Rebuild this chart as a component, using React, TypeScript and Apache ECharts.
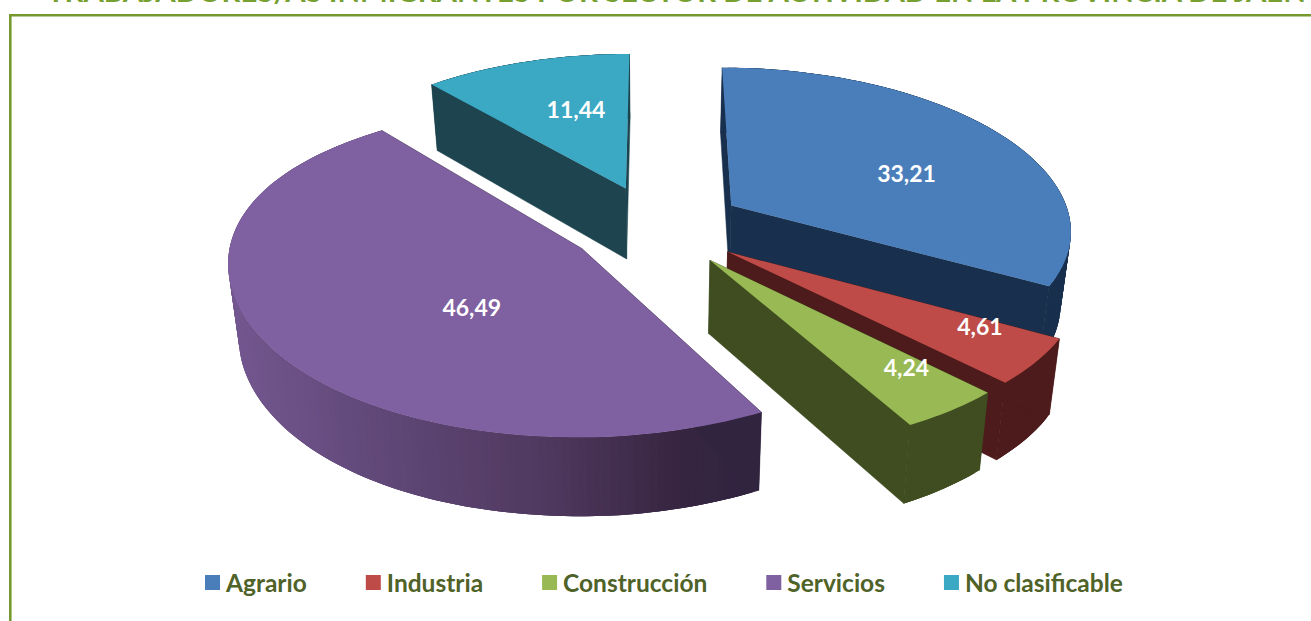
import React, { useEffect, useRef } from "react";
import * as echarts from "echarts";

const titleText = "TRABAJADORES/AS INMIGRANTES POR SECTOR DE ACTIVIDAD EN LA PROVINCIA DE JAÉN";
const categories = ["Agrario", "Industria", "Construcción", "Servicios", "No clasificable"];
const values = [33.21, 4.61, 4.24, 46.49, 11.44];
const valueLabels = ["33,21", "4,61", "4,24", "46,49", "11,44"];
const topColors = ["#4a7ebb", "#be4b48", "#98b954", "#7f60a0", "#3ba8c4"];
const wallColors = ["#18304d", "#4d1b1b", "#3f4d20", "#30243f", "#1d444f"];
// outer wall of Servicios shades from left to right
const shadeStops: [number, number[]][] = [
  [0, [0x73, 0x57, 0x8f]],
  [0.3, [0x5f, 0x47, 0x77]],
  [0.6, [0x50, 0x39, 0x5f]],
  [0.85, [0x37, 0x25, 0x41]],
  [1, [0x30, 0x24, 0x3f]],
];
// label placement inside each slice: radius fraction, fraction of the slice's sweep
const labelRadius = [0.595, 0.785, 0.765, 0.45, 0.6];
const labelSweep = [0.56, 0.12, 0.2, 0.41, 0.6];
// painter's order, back to front
const drawOrder = [4, 0, 1, 2, 3];

const CX = 656, CY = 226, AX = 341, BY = 159, KX = 0.14, KY = 0.12, EXPLODE = 0.26;
const total = values.reduce((a, b) => a + b, 0);
const starts: number[] = [];
values.reduce((acc, v, i) => { starts[i] = acc; return acc + v; }, 0);

function project(u: number, v: number, low: boolean): number[] {
  const wx = 1 / (1 - KX * v);
  const wy = 1 / (1 - KY * v);
  const lift = 14 * Math.max(-u - 0.1, 0) * Math.max(1 - ((v - 0.2) / 1.2) ** 2, 0);
  const x = CX + AX * u * wx * (low ? 0.975 : 1);
  const y = CY + BY * v * wy - lift + (low ? 72 + 6 * v : 0);
  return [x, y];
}

function shade(t: number): string {
  for (let i = 1; i < shadeStops.length; i++) {
    const [o1, c1] = shadeStops[i];
    const [o0, c0] = shadeStops[i - 1];
    if (t <= o1) {
      const f = Math.max(0, (t - o0) / (o1 - o0));
      const c = c0.map((a, k) => Math.round(a + (c1[k] - a) * f));
      return `rgb(${c[0]},${c[1]},${c[2]})`;
    }
  }
  return "#30243f";
}

function sliceGeometry(i: number) {
  const a0 = (starts[i] / total) * Math.PI * 2;
  const a1 = ((starts[i] + values[i]) / total) * Math.PI * 2;
  const mid = (a0 + a1) / 2;
  const ou = Math.sin(mid) * EXPLODE;
  const ov = -Math.cos(mid) * EXPLODE;
  const at = (r: number, a: number): number[] => [ou + r * Math.sin(a), ov - r * Math.cos(a)];
  const steps = Math.max(6, Math.ceil((a1 - a0) / 0.02));
  const rim: number[][] = [];
  for (let s = 0; s <= steps; s++) rim.push(at(1, a0 + ((a1 - a0) * s) / steps));
  return { a0, a1, ou, ov, at, rim };
}

function renderSlice(idx: number) {
  return () => {
    const g = sliceGeometry(idx);
    const apex = [g.ou, g.ov];
    const top = (p: number[]) => project(p[0], p[1], false);
    const low = (p: number[]) => project(p[0], p[1], true);
    const topRim = g.rim.map(top);
    const lowRim = g.rim.map(low);
    const xs = topRim.map((p) => p[0]);
    const minX = Math.min(...xs);
    const maxX = Math.max(...xs);
    const first = g.rim[0];
    const last = g.rim[g.rim.length - 1];
    const children: any[] = [];
    const n = g.rim.length - 1;
    for (let s = 0; s < n; s++) {
      const e = Math.min(s + 3, n);
      const c = idx === 3 ? shade((topRim[s][0] - minX) / (maxX - minX)) : wallColors[idx];
      children.push({
        type: "polygon",
        shape: { points: [topRim[s], topRim[s + 1], topRim[e], lowRim[e], lowRim[s + 1], lowRim[s]] },
        style: { fill: c, stroke: null },
      });
    }
    const wc = wallColors[idx];
    children.push(
      { type: "polygon", shape: { points: [top(apex), top(first), low(first), low(apex)] }, style: { fill: wc, stroke: wc, lineWidth: 0.5 } },
      { type: "polygon", shape: { points: [top(apex), top(last), low(last), low(apex)] }, style: { fill: wc, stroke: wc, lineWidth: 0.5 } },
      { type: "polygon", shape: { points: [top(apex), ...topRim] }, style: { fill: topColors[idx], stroke: null } }
    );
    const la = g.a0 + (g.a1 - g.a0) * labelSweep[idx];
    const lp = top(g.at(labelRadius[idx], la));
    children.push({
      type: "text",
      x: lp[0],
      y: lp[1] + 2.5,
      z2: 100,
      style: {
        text: valueLabels[idx],
        fill: "#ffffff",
        font: "bold 23px Lato, sans-serif",
        textAlign: "center",
        textVerticalAlign: "middle",
      },
    });
    return { type: "group", children };
  };
}

export default function App() {
  const ref = useRef<HTMLDivElement>(null);
  useEffect(() => {
    document.body.style.margin = "0";
    const chart = echarts.init(ref.current!, undefined, { renderer: "svg" });
    chart.setOption({
      animation: false,
      backgroundColor: "#ffffff",
      title: {
        text: titleText,
        left: 47,
        top: -24,
        padding: 0,
        textStyle: { color: "#76a030", fontFamily: "Lato, sans-serif", fontWeight: "bold", fontSize: 29.3 },
      },
      legend: {
        left: 205,
        top: 570,
        itemWidth: 15,
        itemHeight: 15,
        itemGap: 59,
        icon: "rect",
        padding: 0,
        data: categories,
        textStyle: { color: "#4f6228", fontFamily: "Lato, sans-serif", fontWeight: "bold", fontSize: 24.5, padding: [0, 0, 0, 1] },
      },
      graphic: [
        { type: "rect", silent: true, shape: { x: 9, y: 14, width: 1302, height: 2.6 }, style: { fill: "#76992f" } },
        { type: "rect", silent: true, shape: { x: 9, y: 14, width: 2.6, height: 607 }, style: { fill: "#76992f" } },
      ],
      series: drawOrder.map((i) => ({
        type: "custom",
        name: categories[i],
        coordinateSystem: "none",
        silent: true,
        z: 2 + drawOrder.indexOf(i),
        itemStyle: { color: topColors[i] },
        data: [[values[i]]],
        renderItem: renderSlice(i),
      })),
    });
    return () => chart.dispose();
  }, []);
  return <div ref={ref} style={{ position: "absolute", left: 0, top: 0, width: 1311, height: 621 }} />;
}
